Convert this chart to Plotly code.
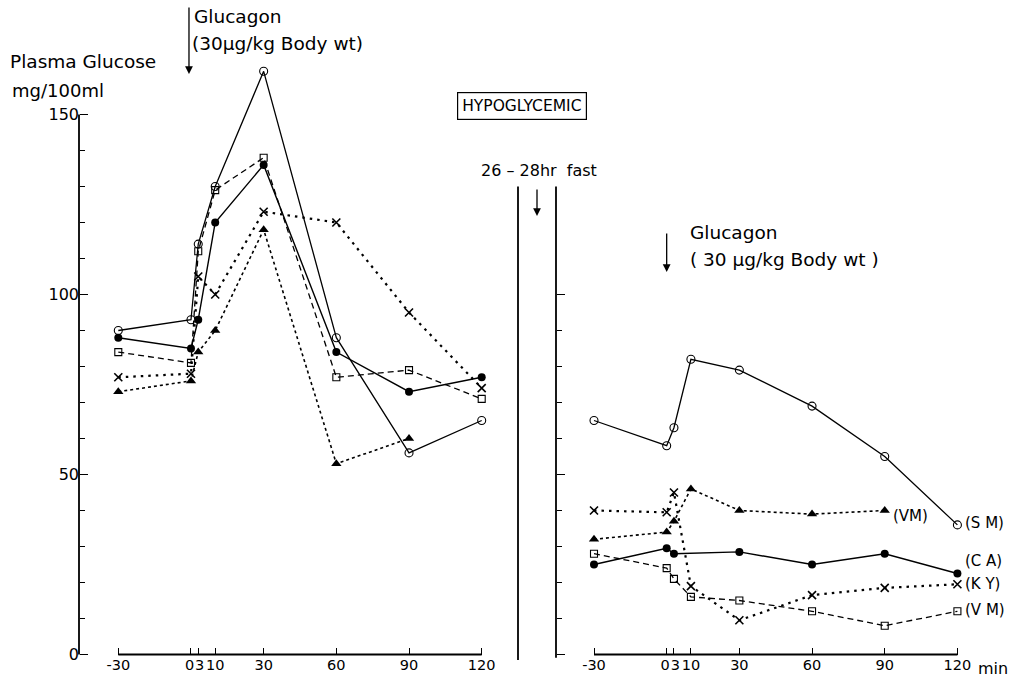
import plotly.graph_objects as go

# ---- data -------------------------------------------------------------
minutes = [-30, 0, 3, 10, 30, 60, 90, 120]
minute_labels = ["-30", "0", "3", "10", "30", "60", "90", "120"]

# Plasma glucose (mg/100 ml), first test
sm_fed = [90, 93, 114, 130, 162, 88, 56, 65]
ca_fed = [88, 85, 93, 120, 136, 84, 73, 77]
vm_sq_fed = [84, 81, 112, 129, 138, 77, 79, 71]
ky_fed = [77, 78, 105, 100, 123, 120, 95, 74]
vm_tri_fed = [73, 76, 84, 90, 118, 53, 60, None]

# Plasma glucose (mg/100 ml) after a 26-28 hr fast
sm_fast = [65, 58, 63, 82, 79, 69, 55, 36]
vm_tri_fast = [32, 34, 37, 46, 40, 39, 40, None]
ca_fast = [25, 29.5, 28, None, 28.5, 25, 28, 22.5]
ky_fast = [40, 39.5, 45, 19, 9.5, 16.5, 18.5, 19.5]
vm_sq_fast = [28, 24, 21, 16, 15, 12, 8, 12]

subject_tags = ["(VM)", "(S M)", "(C A)", "(K Y)", "(V M)"]
tag_levels = [38.5, 36.5, 26, 19.5, 12.5]
tag_minutes = [90, 120, 120, 120, 120]

y_major = [0, 50, 100, 150]
y_minor = [10, 20, 30, 40, 60, 70, 80, 90, 110, 120, 130, 140]

# ---- layout geometry (pixels) ------------------------------------------
W, H = 1011, 680
PX_PER_MIN = 2.4227
PX_PER_UNIT = 3.6
Y0_PX = 654.5           # glucose 0
BOTTOM_PX = 658.1       # lower edge of the plotting area (glucose -1)
LEFT_AXIS_PX, LEFT_T0_PX, BREAK_PX = 79, 118.3, 518
RIGHT_AXIS_PX, RIGHT_T0_PX = 556, 594
FONT = "DejaVu Sans"


def fx(px):
    return px / W


def fy(py):
    return 1 - py / H


def yv(v):
    """glucose value -> paper y"""
    return fy(Y0_PX - v * PX_PER_UNIT)


def t_at(px, t0_px):
    """horizontal pixel -> minutes for a panel whose -30 min tick sits at t0_px"""
    return -30 + (px - t0_px) / PX_PER_MIN


left_range = [t_at(LEFT_AXIS_PX - 4, LEFT_T0_PX), t_at(BREAK_PX + 2, LEFT_T0_PX)]
right_range = [t_at(RIGHT_AXIS_PX - 4, RIGHT_T0_PX), t_at(W, RIGHT_T0_PX)]
y_range = [(Y0_PX - BOTTOM_PX) / PX_PER_UNIT, Y0_PX / PX_PER_UNIT]

fig = go.Figure()

styles = {
    "sm": dict(line=dict(color="black", width=1.3),
               marker=dict(symbol="circle-open", size=8, color="black", line=dict(width=1.1))),
    "ca": dict(line=dict(color="black", width=1.4),
               marker=dict(symbol="circle", size=8, color="black")),
    "vm_sq": dict(line=dict(color="black", width=1.3, dash="6px,4px"),
                  marker=dict(symbol="square-open", size=7, color="black", line=dict(width=1.1))),
    "ky": dict(line=dict(color="black", width=2.2, dash="2.5px,5px"),
               marker=dict(symbol="x-thin-open", size=8, color="black", line=dict(width=1.6, color="black"))),
    "vm_tri": dict(line=dict(color="black", width=1.6, dash="dot"),
                   marker=dict(symbol="triangle-up", size=9, color="black")),
}


def frame_line(xa, ya, xs, ys):
    fig.add_trace(go.Scatter(x=xs, y=ys, mode="lines", xaxis=xa, yaxis=ya,
                             line=dict(color="black", width=1.8),
                             cliponaxis=False, showlegend=False, hoverinfo="skip"))


# axis lines of both panels
t_left_axis = t_at(LEFT_AXIS_PX, LEFT_T0_PX)
t_right_axis = t_at(RIGHT_AXIS_PX, RIGHT_T0_PX)
frame_line("x", "y", [t_left_axis, t_left_axis], [0, 150])
frame_line("x", "y", [minutes[0], minutes[-1]], [0, 0])
frame_line("x2", "y2", [t_right_axis, t_right_axis], [-0.9, 130])
frame_line("x2", "y2", [minutes[0], minutes[-1]], [0, 0])

panels = [
    ("x", "y", {"sm": sm_fed, "ca": ca_fed, "vm_sq": vm_sq_fed, "ky": ky_fed, "vm_tri": vm_tri_fed}),
    ("x2", "y2", {"sm": sm_fast, "ca": ca_fast, "vm_sq": vm_sq_fast, "ky": ky_fast, "vm_tri": vm_tri_fast}),
]
for xa, ya, series in panels:
    for key, vals in series.items():
        fig.add_trace(go.Scatter(
            x=minutes, y=vals, mode="lines+markers", xaxis=xa, yaxis=ya,
            connectgaps=True, showlegend=False, hoverinfo="skip", **styles[key]))

# the 0 and 3 min labels sit almost on top of each other; nudge them apart
nudge = {"0": "0\u2009", "3": "\u20093"}
x_ticktext = [nudge.get(s, s) for s in minute_labels]

axis_common = dict(showgrid=False, zeroline=False, showline=False, ticks="inside",
                   tickcolor="black", tickwidth=1.3, automargin=False,
                   tickfont=dict(family=FONT, size=14.5, color="black"))

fig.update_layout(
    width=W, height=H, margin=dict(l=0, r=0, t=0, b=0, autoexpand=False),
    paper_bgcolor="white", plot_bgcolor="white", showlegend=False,
    xaxis=dict(domain=[fx(LEFT_AXIS_PX - 4), fx(BREAK_PX + 2)], range=left_range,
               anchor="free", position=yv(0),
               tickmode="array", tickvals=minutes, ticktext=x_ticktext,
               ticklen=7, tickangle=0, **axis_common),
    yaxis=dict(domain=[fy(BOTTOM_PX), 1], range=y_range, anchor="free", position=fx(LEFT_AXIS_PX),
               tickmode="array", tickvals=y_major, ticklen=8,
               minor=dict(tickvals=y_minor, ticklen=5, ticks="inside", tickcolor="black", tickwidth=1.3),
               **axis_common),
    xaxis2=dict(domain=[fx(RIGHT_AXIS_PX - 4), 1], range=right_range,
                anchor="free", position=yv(0),
                tickmode="array", tickvals=minutes, ticktext=x_ticktext,
                ticklen=7, tickangle=0, **axis_common),
    yaxis2=dict(domain=[fy(BOTTOM_PX), 1], range=y_range, anchor="free", position=fx(RIGHT_AXIS_PX),
                tickmode="array", tickvals=[0, 50, 100], ticklen=8, showticklabels=False,
                minor=dict(tickvals=[10, 20, 30, 40, 60, 70, 80, 90], ticklen=5, ticks="inside",
                           tickcolor="black", tickwidth=1.3),
                **axis_common),
)
fig.update_yaxes(tickfont_size=16)

# break between the two test periods
fig.update_layout(shapes=[
    dict(type="line", xref="paper", yref="paper", x0=fx(BREAK_PX), x1=fx(BREAK_PX),
         y0=yv(-1.5), y1=yv(130), line=dict(color="black", width=1.8)),
])

ann = []


def text(px, py, s, size=19, anchor="left"):
    ann.append(dict(x=fx(px), y=fy(py), xref="paper", yref="paper", text=s, showarrow=False,
                    xanchor=anchor, yanchor="middle",
                    font=dict(family=FONT, size=size, color="black")))


text(8, 61, "Plasma Glucose", 18.5)
text(10, 91, "mg/100ml", 18)
text(192, 16, "Glucagon", 18.5)
text(190, 43, "(30µg/kg Body wt)", 18.5)
text(688, 232, "Glucagon", 18.5)
text(688, 259, "( 30 µg/kg Body wt )", 18.5)
text(479, 170, "26 – 28hr  fast", 16)
ann.append(dict(x=fx(522), y=fy(106), xref="paper", yref="paper", text="HYPOGLYCEMIC",
                showarrow=False, xanchor="center", yanchor="middle",
                bordercolor="black", borderwidth=1.2, borderpad=4,
                font=dict(family=FONT, size=15.5, color="black")))
ann.append(dict(x=120, y=0, xref="x2", yref="y2", text="min", showarrow=False,
                xanchor="left", yanchor="top", xshift=19, yshift=-2,
                font=dict(family=FONT, size=16, color="black")))

# glucagon injection arrows
arrow = dict(showarrow=True, arrowhead=2, arrowsize=1.2, arrowwidth=1.3, arrowcolor="black",
             text="", ax=0, standoff=0)
ann.append(dict(x=0, y=(Y0_PX - 74) / PX_PER_UNIT, xref="x", yref="y", ay=-68, xshift=-2, **arrow))
ann.append(dict(x=0, y=(Y0_PX - 272) / PX_PER_UNIT, xref="x2", yref="y2", ay=-40, **arrow))
ann.append(dict(x=fx(537), y=fy(216), xref="paper", yref="paper", ay=-28, **arrow))

# subject tags on the fasting panel
for tag, lvl, tx in zip(subject_tags, tag_levels, tag_minutes):
    ann.append(dict(x=tx, y=lvl, xref="x2", yref="y2", text=tag, showarrow=False,
                    xanchor="left", yanchor="middle", xshift=6,
                    font=dict(family=FONT, size=15, color="black")))

fig.update_layout(annotations=ann)
fig.write_html("out.html")
